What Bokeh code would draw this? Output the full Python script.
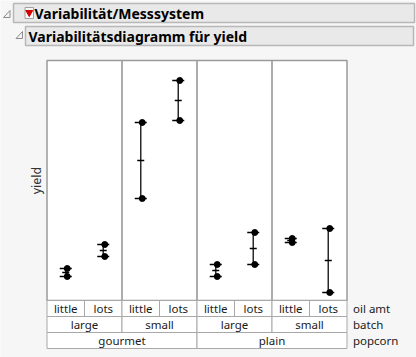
import numpy as np
from bokeh.plotting import figure
from bokeh.models import Range1d, ColumnDataSource
from bokeh.core.properties import value
from bokeh.embed import file_html
from bokeh.resources import INLINE
from bokeh.transform import dodge

# ---------------- data ----------------
popcorn = ["gourmet", "gourmet", "gourmet", "gourmet", "plain", "plain", "plain", "plain"]
batch = ["large", "large", "small", "small", "large", "large", "small", "small"]
oil_amt = ["little", "lots", "little", "lots", "little", "lots", "little", "lots"]
yield_rep1 = [8.6, 9.2, 12.1, 16.0, 8.2, 10.4, 9.9, 10.6]
yield_rep2 = [8.2, 9.8, 15.9, 18.0, 8.8, 8.8, 10.1, 7.4]
level_names = ["oil amt", "batch", "popcorn"]
title_1 = "Variabilität/Messsystem"
title_2 = "Variabilitätsdiagramm für yield"
y_label = "yield"
y_lo, y_hi = 7.0, 19.0

# ---------------- geometry (figure pixels) ----------------
W, H = 416, 357
chart_l, chart_r = 46.5, 346.5
chart_t, chart_b = 60.0, 300.0
row_h = 16.0
n = len(oil_amt)
cell_px = (chart_r - chart_l) / n
ppu = (chart_b - chart_t) / (y_hi - y_lo)

x_range = Range1d(-0.5 - chart_l / cell_px, n - 0.5 + (W - chart_r) / cell_px)
y_range = Range1d(y_lo - (H - chart_b) / ppu, y_hi + chart_t / ppu)

p = figure(width=W, height=H, x_range=x_range, y_range=y_range, title=None,
           output_backend="svg", toolbar_location=None, min_border=0,
           x_axis_type=None, y_axis_type=None)
p.outline_line_color = None
p.background_fill_color = "#f6f6f6"
p.border_fill_color = "#f6f6f6"
p.extra_x_ranges = {"px": Range1d(0, W)}
p.extra_y_ranges = {"px": Range1d(H, 0)}

FONT = value("Noto Sans")
GRID = "#a8a8a8"

# ---------------- header ----------------
p.quad(left=[13], right=[414], top=[3], bottom=[22], x_range_name="px", y_range_name="px",
       fill_color="#e9e9e9", line_color="#b8b8b8", line_width=1.5)
p.quad(left=[25], right=[413], top=[26], bottom=[45], x_range_name="px", y_range_name="px",
       fill_color="#e9e9e9", line_color="#b8b8b8", line_width=1.5)
# disclosure triangles
p.patches(xs=[[9.5, 9.5, 3], [22, 22, 15.5]], ys=[[10, 17, 17], [31, 38, 38]],
          x_range_name="px", y_range_name="px", fill_color="#f4f4f4", line_color="#8c8c8c", line_width=1)
# red menu icon
p.quad(left=[24.5], right=[33], top=[7], bottom=[18], x_range_name="px", y_range_name="px",
       fill_color="#f8f8f8", line_color="#a0a0a0", line_width=1)
p.scatter(x=[28.75], y=[12], marker="inverted_triangle", size=7, x_range_name="px", y_range_name="px",
          fill_color="#d40000", line_color="#d40000")
p.text(x=[34, 28], y=[13, 36], text=[title_1, title_2], x_range_name="px", y_range_name="px",
       text_font=value("Noto Sans"), text_font_style="bold", text_font_size="14px",
       text_baseline="middle", text_align="left", text_color="#000000")

# ---------------- chart area ----------------
p.quad(left=[-0.5], right=[n - 0.5], bottom=[y_lo], top=[y_hi], fill_color="white", line_color=None)
groups_b = list(zip(popcorn, batch))
seps = [i + 0.5 for i in range(n - 1) if groups_b[i] != groups_b[i + 1]]
p.segment(x0=seps, x1=seps, y0=[y_lo] * len(seps), y1=[y_hi] * len(seps), line_color="#909090", line_width=1.5)
p.quad(left=[-0.5], right=[n - 0.5], bottom=[y_lo], top=[y_hi], fill_color=None, line_color="#9a9a9a", line_width=1.5)

# y label
p.text(x=[36], y=[(chart_t + chart_b) / 2], text=[y_label], angle=np.pi / 2, x_range_name="px", y_range_name="px",
       text_font=FONT, text_font_size="12.5px", text_align="center", text_baseline="middle", text_color="#333333")

# ---------------- category table ----------------
def runs(keys):
    out = []
    s = 0
    for i in range(1, n + 1):
        if i == n or keys[i] != keys[s]:
            out.append((s, i - 1))
            s = i
    return out

levels = [
    (list(zip(popcorn, batch, oil_amt)), oil_amt),
    (groups_b, batch),
    (popcorn, popcorn),
]
for k, (keys, labels) in enumerate(levels):
    rr = runs(keys)
    lefts = [a - 0.5 for a, b in rr]
    rights = [b + 0.5 for a, b in rr]
    top = chart_b + k * row_h
    bot = top + row_h
    p.quad(left=lefts, right=rights, top=[top] * len(rr), bottom=[bot] * len(rr), y_range_name="px",
           fill_color="white", line_color=GRID, line_width=1)
    p.text(x=[(a + b) / 2 for a, b in rr], y=[top + row_h / 2] * len(rr), text=[labels[a] for a, b in rr],
           y_range_name="px", text_font=FONT, text_font_size="11.5px", text_align="center",
           text_baseline="middle", text_color="#1a1a1a")
p.text(x=[chart_r + 6] * 3, y=[chart_b + (k + 0.5) * row_h for k in range(3)], text=level_names,
       x_range_name="px", y_range_name="px", text_font=FONT, text_font_size="11.5px",
       text_align="left", text_baseline="middle", text_color="#1a1a1a")

# ---------------- data marks ----------------
idx = list(range(n))
lo = [min(a, b) for a, b in zip(yield_rep1, yield_rep2)]
hi = [max(a, b) for a, b in zip(yield_rep1, yield_rep2)]
mean = [(a + b) / 2 for a, b in zip(yield_rep1, yield_rep2)]
src = ColumnDataSource(dict(x=idx, lo=lo, hi=hi, mean=mean, r1=yield_rep1, r2=yield_rep2))

p.segment(x0="x", y0="lo", x1="x", y1="hi", source=src, line_color="#2a2a2a", line_width=1.5)
p.scatter(x="x", y="lo", source=src, marker="dash", size=12, line_color="black", line_width=1.5)
p.scatter(x="x", y="hi", source=src, marker="dash", size=12, line_color="black", line_width=1.5)
p.scatter(x="x", y="mean", source=src, marker="dash", size=7, line_color="black", line_width=1.5)
for col in ["r1", "r2"]:
    p.scatter(x=dodge("x", 0.04, range=p.x_range), y=col, source=src, marker="circle", size=6,
              fill_color="black", line_color="black")

open("out.html", "w").write(file_html(p, INLINE))
